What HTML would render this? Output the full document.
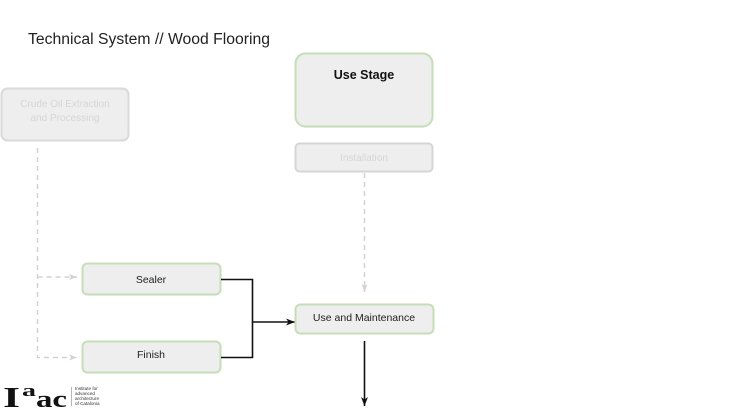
<!DOCTYPE html>
<html><head><meta charset="utf-8"><style>
html,body{margin:0;padding:0;background:#fff;}
body{width:730px;height:411px;overflow:hidden;position:relative;font-family:"Liberation Sans",sans-serif;}
svg{position:absolute;left:0;top:0;}
</style></head><body>
<svg width="730" height="411" viewBox="0 0 730 411" xmlns="http://www.w3.org/2000/svg">
<defs>
<marker id="ga" markerWidth="10" markerHeight="8" refX="9" refY="4" orient="auto" markerUnits="userSpaceOnUse">
<path d="M1,1 L9,4 L1,7 L3,4 Z" fill="#d2d2d2"/>
</marker>
<marker id="ba" markerWidth="10" markerHeight="8" refX="9" refY="4" orient="auto" markerUnits="userSpaceOnUse">
<path d="M0,0.5 L9,4 L0,7.5 L2.5,4 Z" fill="#111"/>
</marker>
</defs>
<text x="28" y="44" font-size="15.5" fill="#222" font-family="Liberation Sans, sans-serif" textLength="242" lengthAdjust="spacingAndGlyphs">Technical System // Wood Flooring</text>

<!-- Crude oil box -->
<rect x="1.5" y="88.5" width="127" height="52" rx="6" fill="#eeeeee" stroke="#d9d9d9" stroke-width="2"/>
<text x="65" y="107" font-size="10" fill="#d6d6d6" text-anchor="middle">Crude Oil Extraction</text>
<text x="65" y="121" font-size="10" fill="#d6d6d6" text-anchor="middle">and Processing</text>

<!-- Use Stage -->
<rect x="295.5" y="53.5" width="137" height="73" rx="10" fill="#eeeeee" stroke="#c5deb7" stroke-width="2"/>
<text x="364" y="79" font-size="12.5" font-weight="bold" fill="#111" text-anchor="middle">Use Stage</text>

<!-- Installation -->
<rect x="295.5" y="143.5" width="137" height="28" rx="4" fill="#eeeeee" stroke="#d5d5d5" stroke-width="2"/>
<text x="364" y="161" font-size="10" fill="#d6d6d6" text-anchor="middle">Installation</text>

<!-- dashed connectors -->
<path d="M37.5,148 L37.5,357.5 L77,357.5" fill="none" stroke="#d2d2d2" stroke-width="1.5" stroke-dasharray="5,4" marker-end="url(#ga)"/>
<path d="M37.5,277 L77,277" fill="none" stroke="#d2d2d2" stroke-width="1.5" stroke-dasharray="5,4" marker-end="url(#ga)"/>
<path d="M364.5,173 L364.5,292" fill="none" stroke="#d2d2d2" stroke-width="1.5" stroke-dasharray="5,4" marker-end="url(#ga)"/>

<!-- Sealer -->
<rect x="82.5" y="263.5" width="138" height="31" rx="5" fill="#eeeeee" stroke="#c5deb7" stroke-width="2"/>
<text x="151" y="283" font-size="10.5" fill="#222" text-anchor="middle">Sealer</text>
<!-- Finish -->
<rect x="82.5" y="341.5" width="138" height="31" rx="5" fill="#eeeeee" stroke="#c5deb7" stroke-width="2"/>
<text x="151" y="358" font-size="10.5" fill="#222" text-anchor="middle">Finish</text>

<!-- black connectors -->
<path d="M221,279.5 L252.5,279.5 L252.5,357.5 L221,357.5" fill="none" stroke="#111" stroke-width="1.6"/>
<path d="M252.5,322 L295,322" fill="none" stroke="#111" stroke-width="1.6" marker-end="url(#ba)"/>

<!-- Use and Maintenance -->
<rect x="295.5" y="304.5" width="138" height="29" rx="5" fill="#eeeeee" stroke="#c5deb7" stroke-width="2"/>
<text x="364" y="321" font-size="10.5" fill="#222" text-anchor="middle">Use and Maintenance</text>
<path d="M364.5,341 L364.5,406" fill="none" stroke="#111" stroke-width="1.6" marker-end="url(#ba)"/>

<!-- logo -->
<text x="3" y="407" font-size="28" font-weight="bold" fill="#111" font-family="Liberation Serif, serif" textLength="17" lengthAdjust="spacingAndGlyphs">I</text>
<text x="22" y="396" font-size="17" font-weight="bold" fill="#111" font-family="Liberation Serif, serif" textLength="14" lengthAdjust="spacingAndGlyphs">a</text>
<text x="36" y="407" font-size="24" font-weight="bold" fill="#111" font-family="Liberation Serif, serif" textLength="31" lengthAdjust="spacingAndGlyphs">ac</text>
<line x1="71.5" y1="387" x2="71.5" y2="406" stroke="#999" stroke-width="0.7"/>
<text font-size="4.6" fill="#333" font-family="Liberation Sans, sans-serif">
<tspan x="75" y="390">Institute for</tspan>
<tspan x="75" y="395">advanced</tspan>
<tspan x="75" y="400">architecture</tspan>
<tspan x="75" y="405">of Catalonia</tspan>
</text>
</svg>
</body></html>
